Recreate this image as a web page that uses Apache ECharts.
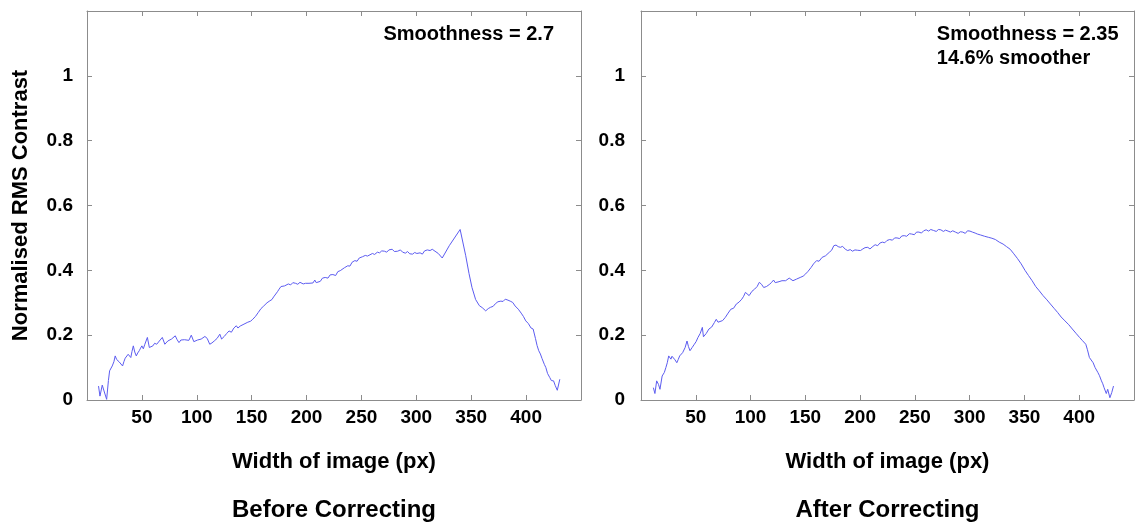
<!DOCTYPE html>
<html>
<head>
<meta charset="utf-8">
<script src="https://cdn.jsdelivr.net/npm/echarts@6/dist/echarts.min.js"></script>
<style>
html,body{margin:0;padding:0;background:#fff;}
#c{width:1142px;height:524px;}
</style>
</head>
<body>
<div id="c"></div>
<script>
// ---- data ----
const xTicks = [50, 100, 150, 200, 250, 300, 350, 400];
const yTicks = [0, 0.2, 0.4, 0.6, 0.8, 1];

const beforeX = [10.5,11.8,13.9,15.5,17.9,19.5,20.6,21.8,23,24.5,25.7,27,28,29.2,30.4,32.4,33.6,34.8,36.2,37.5,38.7,39.9,41,42.2,43.5,44.9,46.2,47.6,48.8,50,51.3,52.7,53.8,55,56.8,58.4,60,61.6,63.5,64.7,65.9,67.2,68.6,70.9,72.2,73.6,75.3,77,78.7,80.4,82.1,83.8,85.5,87.2,88.8,90.5,92.8,95,97.3,99,100.7,102.3,104,105.7,107.4,109.5,111.8,113.8,115.9,118.5,121,122.6,125,127.2,129.4,131.5,133.8,136,137.5,139.5,143,146.5,149,151,153.5,156,158.5,161,162.5,164,166.6,168.5,170,171.6,173.5,175,176.7,178.5,180,181.7,183.4,185.5,187.5,190,192,194,197,199,200.5,202.2,203.7,205.8,207.5,208.8,210.5,212.5,214.5,216,217,219.5,221.5,223,224,226.5,228.5,230.7,232.5,234.5,237.5,239.5,241.5,244,246,248,251,253.5,255.5,257.8,260,262,264.5,266.5,268.5,271,273,275,276.5,278,280,283,285.5,287.5,290,292,294,296.6,298.5,300.5,303.4,305.5,307.5,310,312.5,314.5,317,320,323.6,330,339.9,345,348,350.7,354,357.4,360,363.2,365.5,367.6,370,372,374.3,377,379,381,383.5,385.5,387.8,390,392.9,395.5,397.5,399.7,402,404.5,406.4,408.5,410,411.5,413,414.5,416.6,418,419.5,421.6,423,425,426.5,428.4,430.7];
const beforeY = [0.043,0.012,0.046,0.028,0.002,0.06,0.09,0.085,0.105,0.118,0.136,0.125,0.128,0.118,0.122,0.105,0.118,0.129,0.124,0.141,0.135,0.131,0.15,0.167,0.148,0.136,0.145,0.152,0.16,0.167,0.158,0.172,0.182,0.193,0.162,0.165,0.167,0.175,0.172,0.178,0.182,0.176,0.193,0.172,0.178,0.182,0.178,0.188,0.182,0.198,0.186,0.177,0.185,0.182,0.186,0.188,0.184,0.2,0.180,0.186,0.185,0.182,0.188,0.186,0.196,0.19,0.172,0.176,0.182,0.19,0.203,0.188,0.196,0.205,0.213,0.209,0.222,0.229,0.222,0.228,0.234,0.24,0.243,0.249,0.258,0.27,0.282,0.29,0.286,0.3,0.306,0.31,0.318,0.322,0.334,0.342,0.35,0.347,0.352,0.355,0.358,0.355,0.362,0.36,0.357,0.363,0.358,0.36,0.366,0.36,0.363,0.361,0.37,0.362,0.368,0.366,0.376,0.372,0.378,0.376,0.386,0.38,0.387,0.384,0.396,0.399,0.396,0.408,0.414,0.413,0.425,0.43,0.428,0.438,0.442,0.446,0.444,0.448,0.452,0.449,0.456,0.454,0.46,0.459,0.456,0.463,0.461,0.465,0.458,0.459,0.463,0.456,0.453,0.458,0.451,0.45,0.455,0.452,0.454,0.45,0.46,0.463,0.461,0.465,0.459,0.452,0.438,0.476,0.526,0.445,0.39,0.347,0.31,0.291,0.285,0.275,0.282,0.286,0.289,0.297,0.303,0.305,0.304,0.311,0.308,0.305,0.301,0.29,0.280,0.268,0.258,0.244,0.236,0.222,0.219,0.19,0.168,0.152,0.142,0.128,0.110,0.1,0.082,0.069,0.06,0.059,0.045,0.030,0.064];

const afterX = [11.3,12.7,14.3,16,17.3,19.3,21.3,22.7,24,25.3,26.3,27.3,28.3,29.3,31,32.7,34,35.3,36.6,38,39.2,40.3,42,43.3,44.7,46.7,48.7,50.3,52,54,56,57,59.5,62,64.5,67,68.7,70.3,72,74.5,77,79.5,82,84.5,87,89.5,92,93.7,95.3,97,98.7,101.2,103.7,106,108,110,112,114.5,117,119,121,122.5,123.7,126,128.7,130.5,132,135.3,137,138.7,142,145.3,148,150.3,152.5,155.3,157.5,160.3,162.5,165.3,168.5,172,174,176,178,180,182,184,186.5,188.7,191,193,195.3,197.5,200.3,202.5,204.5,207,209,211,213.7,216,218,220.3,222.5,224.5,227,229.5,231.5,233.7,236,238,240.3,242.5,245,247,249.5,251.5,253.7,256,258,260.3,262.5,264.5,267,269.5,271.5,273.7,276,278,280.3,282.5,284.5,287,289.5,291.5,293.7,296,298,300.3,302.5,305,307,310,313.7,317,320.3,323.5,327,330.5,333.7,337,340.3,343.5,347,350.5,353.7,357,360.3,363.5,367,370.5,373.7,377,380.3,383.5,387,390.5,393.7,397,400.3,403,406,407.5,409.3,411,412.7,414.5,417,418.5,420.3,421.5,422.7,424.7,426,428,429.7,431.3];
const afterY = [0.038,0.020,0.059,0.048,0.033,0.074,0.085,0.1,0.115,0.136,0.13,0.126,0.135,0.133,0.124,0.115,0.125,0.136,0.135,0.146,0.14,0.162,0.182,0.165,0.152,0.162,0.172,0.18,0.193,0.205,0.224,0.195,0.205,0.219,0.225,0.239,0.249,0.24,0.234,0.245,0.255,0.268,0.28,0.283,0.296,0.302,0.311,0.32,0.332,0.326,0.322,0.335,0.342,0.35,0.363,0.357,0.347,0.35,0.356,0.362,0.37,0.362,0.360,0.365,0.368,0.372,0.368,0.376,0.372,0.368,0.373,0.378,0.382,0.389,0.397,0.409,0.42,0.43,0.428,0.44,0.445,0.456,0.462,0.476,0.478,0.473,0.471,0.474,0.465,0.461,0.464,0.459,0.463,0.462,0.461,0.466,0.47,0.471,0.466,0.472,0.479,0.476,0.484,0.487,0.485,0.492,0.495,0.493,0.5,0.5,0.498,0.506,0.507,0.505,0.513,0.512,0.51,0.518,0.518,0.515,0.522,0.525,0.521,0.526,0.523,0.52,0.526,0.525,0.52,0.524,0.521,0.518,0.522,0.518,0.514,0.519,0.518,0.514,0.522,0.521,0.518,0.515,0.512,0.509,0.505,0.502,0.499,0.495,0.487,0.481,0.473,0.465,0.451,0.437,0.42,0.4,0.384,0.368,0.35,0.337,0.322,0.309,0.296,0.283,0.270,0.256,0.244,0.232,0.219,0.206,0.193,0.183,0.172,0.155,0.131,0.125,0.115,0.1,0.085,0.075,0.059,0.05,0.038,0.020,0.033,0.007,0.023,0.043];

const yAxisTitle = 'Normalised RMS Contrast';
const xAxisTitle = 'Width of image (px)';
const panelTitles = ['Before Correcting', 'After Correcting'];
const notesLeft = ['Smoothness = 2.7'];
const notesRight = ['Smoothness = 2.35', '14.6% smoother'];

// ---- chart ----
const FONT = '"Liberation Sans", Arial, sans-serif';
const BORDER = '#8c8c8c';
const LINE = '#5c5cf0';
const grids = [
  {left: 87, top: 11, width: 494, height: 389},
  {left: 641, top: 11, width: 493, height: 389}
];

function pair(a, b) { return a.map((v, i) => [v, b[i]]); }

const xAxes = [], yAxes = [];
grids.forEach((g, gi) => {
  const common = {
    gridIndex: gi,
    axisLine: {show: true, onZero: false, lineStyle: {color: BORDER, width: 1}},
    axisTick: {show: true, inside: true, length: 5, lineStyle: {color: BORDER}},
    splitLine: {show: false}
  };
  xAxes.push(Object.assign({}, common, {
    type: 'value', position: 'bottom', min: 0, max: 450, interval: 50,
    name: xAxisTitle, nameLocation: 'middle', nameGap: 51,
    nameTextStyle: {fontFamily: FONT, fontWeight: 'bold', fontSize: 22, color: '#000'},
    axisLabel: {margin: 8, fontFamily: FONT, fontWeight: 'bold', fontSize: 19, color: '#000',
      formatter: v => xTicks.indexOf(v) >= 0 ? String(v) : ''}
  }));
  xAxes.push(Object.assign({}, common, {
    type: 'value', position: 'top', min: 0, max: 450, interval: 50,
    axisLabel: {show: false}
  }));
  yAxes.push(Object.assign({}, common, {
    type: 'value', position: 'left', min: 0, max: 1.2, interval: 0.2,
    name: gi === 0 ? yAxisTitle : '', nameLocation: 'middle', nameGap: 55,
    nameTextStyle: {fontFamily: FONT, fontWeight: 'bold', fontSize: 22, color: '#000'},
    axisLabel: {margin: gi === 0 ? 14 : 16, fontFamily: FONT, fontWeight: 'bold', fontSize: 19, color: '#000',
      formatter: v => {
        const r = Math.round(v * 10) / 10;
        return yTicks.indexOf(r) >= 0 ? String(r) : '';
      }}
  }));
  yAxes.push(Object.assign({}, common, {
    type: 'value', position: 'right', min: 0, max: 1.2, interval: 0.2,
    axisLabel: {show: false}
  }));
});

const chart = echarts.init(document.getElementById('c'), null, {renderer: 'canvas'});
const option = {
  animation: false,
  backgroundColor: '#fff',
  grid: grids.map(g => Object.assign({containLabel: false}, g)),
  xAxis: xAxes,
  yAxis: yAxes,
  series: [
    {type: 'line', xAxisIndex: 0, yAxisIndex: 0, data: pair(beforeX, beforeY), showSymbol: false,
      lineStyle: {color: LINE, width: 1}, silent: true},
    {type: 'line', xAxisIndex: 2, yAxisIndex: 2, data: pair(afterX, afterY), showSymbol: false,
      lineStyle: {color: LINE, width: 1}, silent: true}
  ]
};
chart.setOption(option);

// annotations placed via axis scales
const p1 = chart.convertToPixel({xAxisIndex: 0, yAxisIndex: 0}, [270, 1.2]);
const p2 = chart.convertToPixel({xAxisIndex: 2, yAxisIndex: 2}, [270, 1.2]);
const txt = {fontFamily: FONT, fontWeight: 'bold', fontSize: 20, fill: '#000'};
const graphics = [];
notesLeft.forEach((t, i) => graphics.push({type: 'text', left: p1[0], top: p1[1] + 13 + i * 24,
  style: Object.assign({text: t}, txt)}));
notesRight.forEach((t, i) => graphics.push({type: 'text', left: p2[0], top: p2[1] + 13 + i * 24,
  style: Object.assign({text: t}, txt)}));
panelTitles.forEach((t, i) => {
  const g = grids[i];
  graphics.push({type: 'text', x: g.left + g.width / 2, y: 510,
    style: Object.assign({text: t, align: 'center', verticalAlign: 'middle'}, txt, {fontSize: 24})});
});
chart.setOption({graphic: graphics});
</script>
</body>
</html>
